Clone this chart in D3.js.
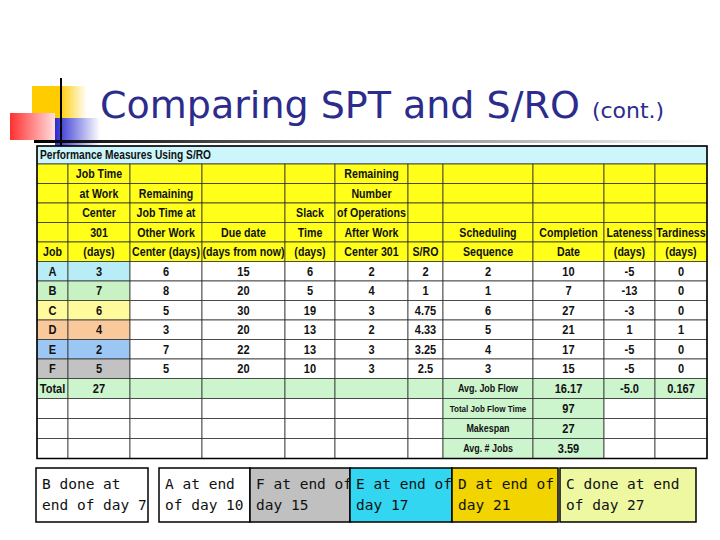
<!DOCTYPE html>
<html><head><meta charset="utf-8">
<script src="https://cdn.jsdelivr.net/npm/d3@7"></script>
<style>body{margin:0;background:#fff}</style></head>
<body><svg id="c" width="720" height="540"></svg>
<script>
const jobs=["A","B","C","D","E","F"];
const jobTime=[3,7,6,4,2,5];
const remainingTime=[6,8,5,3,7,5];
const dueDate=[15,20,30,20,22,20];
const slackTime=[6,5,19,13,13,10];
const remainingOps=[2,4,3,2,3,3];
const sro=["2","1","4.75","4.33","3.25","2.5"];
const sequence=[2,1,6,5,4,3];
const completion=[10,7,27,21,17,15];
const lateness=[-5,-13,-3,1,-5,-5];
const tardiness=[0,0,0,1,0,0];
const jobColors=["#b8ecf6","#c8f2c4","#fffb9c","#f9c99c","#9cc6f4","#c2c2c2"];
const headers=[
 ["","Job Time","","","","Remaining","","","","",""],
 ["","at Work","Remaining","","","Number","","","","",""],
 ["","Center","Job Time at","","Slack","of Operations","","","","",""],
 ["","301","Other Work","Due date","Time","After Work","","Scheduling","Completion","Lateness","Tardiness"],
 ["Job","(days)","Center (days)","(days from now)","(days)","Center 301","S/RO","Sequence","Date","(days)","(days)"]];
const summaryLabels=["Avg. Job Flow","Total Job Flow Time","Makespan","Avg. # Jobs"];
const summaryValues=["16.17","97","27","3.59"];
const totalRow={label:"Total",jobTime:"27",lateness:"-5.0",tardiness:"0.167"};
const boxes=[
 {t:["B done at","end of day 7"],c:"#ffffff",w:112},
 {t:["A at end","of day 10"],c:"#ffffff",w:91,gap:11},
 {t:["F at end of","day 15"],c:"#c0c0c0",w:100},
 {t:["E at end of","day 17"],c:"#33d6f0",w:102},
 {t:["D at end of","day 21"],c:"#f2d400",w:106},
 {t:["C done at end","of day 27"],c:"#eef8a0",w:136,gap:2}];

const svg=d3.select("#c");
const dg=svg.append("defs");
const g1=dg.append("linearGradient").attr("id","rg");g1.append("stop").attr("offset",0).attr("stop-color","#ff3030");g1.append("stop").attr("offset",1).attr("stop-color","#ffdede");
const g2=dg.append("linearGradient").attr("id","bg");g2.append("stop").attr("offset",0).attr("stop-color","#2a2ad0");g2.append("stop").attr("offset",1).attr("stop-color","#ffffff");
const g3=dg.append("linearGradient").attr("id","lg");g3.append("stop").attr("offset",0).attr("stop-color","#000");g3.append("stop").attr("offset",1).attr("stop-color","#fff");
const g4=dg.append("linearGradient").attr("id","yg");g4.append("stop").attr("offset",0.5).attr("stop-color","#ffcc00");g4.append("stop").attr("offset",1).attr("stop-color","#ffffff");
svg.append("rect").attr("x",32).attr("y",86).attr("width",55).attr("height",45).attr("fill","url(#yg)");
svg.append("rect").attr("x",55).attr("y",118).attr("width",45).attr("height",28).attr("fill","url(#bg)");
svg.append("rect").attr("x",10).attr("y",113).attr("width",45).attr("height",27).attr("fill","url(#rg)");
svg.append("line").attr("x1",61).attr("x2",61).attr("y1",78).attr("y2",146).attr("stroke","#000").attr("stroke-width",2);
svg.append("rect").attr("x",34).attr("y",140).attr("width",676).attr("height",3).attr("fill","url(#lg)");
svg.append("text").attr("x",100).attr("y",118).attr("font-family","DejaVu Sans, sans-serif").attr("font-size",38).attr("fill","#2c2c8c")
 .text("Comparing SPT and S/RO ").append("tspan").attr("font-size",22).text("(cont.)");

const colW=[31,62,72,83,50,73,35,90,71,51,52];
const edges=[37];colW.forEach(w=>edges.push(edges[edges.length-1]+w));
const rowsH=[18,19.5,19.5,19.5,19.5,19.5,19.5,19.5,19.5,19.5,19.5,19.5,20,20,20,20];
const rEdges=[146];rowsH.forEach(h=>rEdges.push(rEdges[rEdges.length-1]+h));
const cell=(r,c,span,txt,fill,fs,anchor)=>{
 const x=edges[c],w=edges[c+span]-x,y=rEdges[r],h=rEdges[r+1]-y;
 svg.append("rect").attr("x",x).attr("y",y).attr("width",w).attr("height",h).attr("fill",fill).attr("stroke","#333").attr("stroke-width",0.8);
 const tx=anchor==="start"?x+3:x+w/2;
 if(txt!=="")svg.append("text").attr("x",tx).attr("y",y+h/2).attr("dy","0.36em")
  .attr("text-anchor",anchor||"middle").attr("font-family","Liberation Sans Narrow, Liberation Sans, Arial, sans-serif")
  .attr("font-weight","bold").attr("font-size",fs||12).attr("transform",`translate(${tx},0) scale(0.85,1) translate(${-tx},0)`).attr("fill","#111").text(txt);
};
cell(0,0,11,"Performance Measures Using S/RO","#ccf6fb",12,"start");
headers.forEach((row,i)=>row.forEach((t,j)=>cell(i+1,j,1,t,"#ffff1a",12.5)));
jobs.forEach((j,i)=>{
 const r=6+i;
 const vals=[j,jobTime[i],remainingTime[i],dueDate[i],slackTime[i],remainingOps[i],sro[i],sequence[i],completion[i],lateness[i],tardiness[i]];
 vals.forEach((v,c)=>cell(r,c,1,String(v),c===0||c===1?jobColors[i]:"#ffffff",13));
});
const green="#cdf5cd";
cell(12,0,1,totalRow.label,green,13);cell(12,1,1,totalRow.jobTime,green,13);
for(let c=2;c<7;c++)cell(12,c,1,"",green);
for(let k=0;k<4;k++){
 const r=12+k;
 if(k>0)for(let c=0;c<7;c++)cell(r,c,1,"","#ffffff");
 cell(r,7,1,summaryLabels[k],green,k===1?9.5:10.5);
 cell(r,8,1,summaryValues[k],green,13);
 cell(r,9,1,k===0?totalRow.lateness:"",k===0?green:"#ffffff",13);
 cell(r,10,1,k===0?totalRow.tardiness:"",k===0?green:"#ffffff",13);
}
svg.append("rect").attr("x",edges[0]).attr("y",rEdges[0]).attr("width",edges[11]-edges[0]).attr("height",rEdges[16]-rEdges[0]).attr("fill","none").attr("stroke","#000").attr("stroke-width",1.5);

let bx=36;
boxes.forEach(b=>{
 bx+=(b.gap||0);
 svg.append("rect").attr("x",bx).attr("y",468).attr("width",b.w).attr("height",54).attr("fill",b.c).attr("stroke","#000").attr("stroke-width",1.5);
 b.t.forEach((t,i)=>svg.append("text").attr("x",bx+6).attr("y",489+i*21).attr("font-family","DejaVu Sans Mono, monospace").attr("font-size",14.5).attr("fill","#111").text(t));
 bx+=b.w;
});
</script></body></html>
